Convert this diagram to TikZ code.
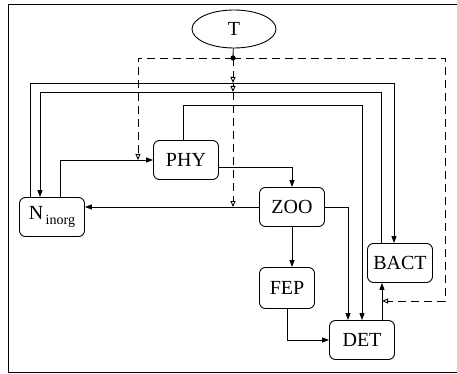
\documentclass[tikz,border=0pt]{standalone}
\usepackage{fontspec}
\setmainfont{Liberation Serif}
\usetikzlibrary{shapes,arrows.meta,positioning}

\begin{document}
\begin{tikzpicture}[
        x=1pt, y=-1pt, line width=0.9pt,
        font=\fontsize{20}{23}\selectfont,
        pool/.style={rectangle, draw, rounded corners=6pt, minimum width=65pt, minimum height=39pt, inner sep=2pt},
        forcing/.style={ellipse, draw, minimum width=84pt, minimum height=38pt, inner sep=1pt},
        flux/.style={-{Triangle[length=7pt,width=5pt]}},
        effect/.style={dash pattern=on 8pt off 5pt, -{Triangle[open,length=6pt,width=5pt]}}
    ]
        \useasboundingbox (0,0) rectangle (457,374);
        % frame
        \draw (457,4) -- (8,4) -- (8,372) -- (457,372);
        % pools
        \node[forcing] (t) at (234,29) {T};
        \node[pool] (phy) at (186,160) {PHY};
        \node[pool] (zoo) at (292,207) {ZOO};
        \node[pool] (ninorg) at (52,217) {N\raisebox{-0.45ex}{\fontsize{14}{14}\selectfont\,inorg}};
        \node[pool, minimum width=55pt, minimum height=41pt] (fep) at (287,288) {FEP};
        \node[pool] (det) at (362,340) {DET};
        \node[pool] (bact) at (400,263) {BACT};
        % helper points
        \coordinate (hub) at (233,58);
        \coordinate (busa) at (0,83);
        \coordinate (busb) at (0,92);
        \coordinate (busc) at (0,105);
        \coordinate (dl) at (138,58);
        \coordinate (dr) at (445,58);
        \coordinate (drb) at (445,301);
        \coordinate (n1) at ([xshift=-22pt]ninorg.north);
        \coordinate (n2) at ([xshift=-12pt]ninorg.north);
        \coordinate (n3) at ([xshift=8pt]ninorg.north);
        \coordinate (b1) at ([xshift=-19pt]bact.north);
        \coordinate (b2) at ([xshift=-6pt]bact.north);
        \coordinate (p1) at ([xshift=-3pt]phy.north);
        \coordinate (d1) at ([xshift=-14pt]det.north);
        \coordinate (d3) at ([xshift=20pt]det.north);
        % fluxes
        \draw[flux] (n3) |- (phy.west);
        \draw[flux] (n1) -- (n1 |- busa) -- (b2 |- busa) -- (b2);
        \draw[flux] (b1) -- (b1 |- busb) -- (n2 |- busb) -- (n2);
        \draw[flux] (p1) -- (p1 |- busc) -- (det.north |- busc) -- (det.north);
        \draw[flux] ([yshift=-7pt]phy.east) -| (zoo.north);
        \draw[flux] (zoo.east) -| (d1);
        \draw[flux] (zoo.west) -- (zoo.west -| ninorg.east);
        \draw[flux] (zoo.south) -- (zoo.south |- fep.north);
        \draw[flux] (fep.south) |- (det.west);
        \draw[flux] (d3) -- (d3 |- bact.south);
        % temperature effects
        \draw (t) -- (hub);
        \fill (hub) circle (2.6pt);
        \draw[effect] (hub) -- (dl) -- (dl |- phy.west);
        \draw[effect] (hub) -- (dr) -- (drb) -- (drb -| d3);
        \draw[effect] (hub) -- (hub |- busa);
        \draw[effect] (hub |- busa) -- (hub |- busb);
        \draw[effect] (hub |- busb) -- (hub |- zoo.west);
    \end{tikzpicture}
\end{document}
